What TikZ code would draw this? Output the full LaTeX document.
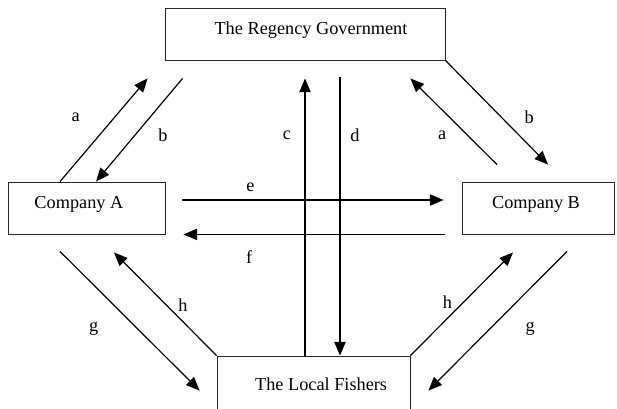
\documentclass[tikz,border=0pt]{standalone}
\usepackage{fontspec}
\setmainfont{Liberation Serif}
\newfontfamily\timesfont{Liberation Serif}
\usetikzlibrary{arrows.meta}

\tikzset{
    party/.style={draw=black!85, line width=0.6pt, inner sep=0pt, minimum height=13mm},
    flow/.style={-{Triangle[length=3.4mm, width=2.8mm]}, line width=0.85pt},
    lab/.style={inner sep=0pt}
}

\begin{document}
\begin{tikzpicture}[x=0.25mm, y=-0.25mm, font=\timesfont\fontsize{13}{15}\selectfont]
            \useasboundingbox (0,0) rectangle (617,408);

            % The four parties
            \node[party, minimum width=70mm, label={[xshift=1.5mm, yshift=1mm]center:The Regency Government}] (gov) at (305,34) {};
            \node[party, minimum width=39.25mm, label={[xshift=-1.9mm, yshift=1mm]center:Company A}] (compA) at (86.5,208) {};
            \node[party, minimum width=38mm, label={[xshift=-0.5mm, yshift=1mm]center:Company B}] (compB) at (538,208) {};
            \node[party, minimum width=48.25mm, minimum height=14mm, label={[xshift=1.9mm]center:The Local Fishers}] (fish) at (313.5,384) {};

            % Government <-> Company A
            \draw[flow] ([shift={(-26.5,0)}]compA.north) -- ([shift={(-17,18)}]gov.south west)
                node[lab, midway, xshift=-7mm, yshift=3.2mm] {a};
            \draw[flow] ([shift={(18,18)}]gov.south west) -- ([shift={(9.5,0)}]compA.north)
                node[lab, midway, xshift=5.9mm, yshift=-1.2mm] {b};

            % Government <-> Local Fishers
            \draw[flow] ([shift={(-8.5,0)}]fish.north) -- ([shift={(0,18)}]gov.south)
                node[lab, pos=0.795, xshift=-4.5mm] {c};
            \draw[flow] ([shift={(35,17)}]gov.south) -- ([shift={(26.5,0)}]fish.north)
                node[lab, pos=0.208, xshift=3.75mm] {d};

            % Government <-> Company B
            \draw[flow] ([shift={(-41,-17)}]compB.north) -- ([shift={(-35,18)}]gov.south east)
                node[lab, midway, xshift=-2.9mm, yshift=-3.4mm] {a};
            \draw[flow] (gov.south east) -- ([shift={(10,-17)}]compB.north)
                node[lab, midway, xshift=8.1mm, yshift=-1.1mm] {b};

            % Company A <-> Company B
            \draw[flow] ([shift={(17,-8)}]compA.east) -- ([shift={(-18,-8)}]compB.west)
                node[lab, pos=0.26, yshift=3.25mm] {e};
            \draw[flow] ([shift={(-17,0)}]compB.south west) -- ([shift={(18,0)}]compA.south east)
                node[lab, pos=0.748, yshift=-5.75mm] {f};

            % Companies <-> Local Fishers
            \draw[flow] ([shift={(-26.5,17)}]compA.south) -- ([shift={(-17,35)}]fish.north west)
                node[lab, midway, xshift=-9mm, yshift=-2mm] {g};
            \draw[flow] (fish.north west) -- ([shift={(27.5,18)}]compA.south)
                node[lab, midway, xshift=4.4mm, yshift=-0.25mm] {h};
            \draw[flow] (fish.north east) -- ([shift={(-25,18)}]compB.south)
                node[lab, midway, xshift=-3.6mm, yshift=0.5mm] {h};
            \draw[flow] ([shift={(29,17)}]compB.south) -- ([shift={(18,35)}]fish.north east)
                node[lab, midway, xshift=8.1mm, yshift=-2mm] {g};
        \end{tikzpicture}
\end{document}
